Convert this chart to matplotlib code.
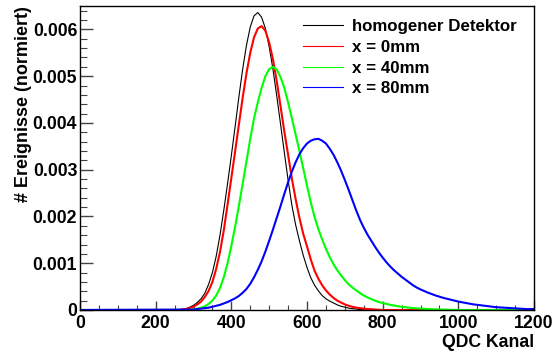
import numpy as np
import matplotlib
matplotlib.use("Agg")
import matplotlib.pyplot as plt
from matplotlib.lines import Line2D
from matplotlib.ticker import MultipleLocator

plt.rcParams['font.family'] = ['Liberation Sans', 'DejaVu Sans']
plt.rcParams['font.weight'] = 'bold'
plt.rcParams['axes.labelweight'] = 'bold'

# Normalised QDC spectra (fraction of events per channel)
kanal_homogen = np.arange(250, 770, 10)
ereignisse_homogen = [
    0, 0.000005, 0.000015, 0.00003, 0.00006, 0.00010, 0.00016, 0.00024, 0.00036, 0.00055,
    0.00080, 0.00115, 0.00160, 0.00213, 0.00270, 0.00330, 0.00392, 0.00456, 0.00515, 0.00566,
    0.00605, 0.00629, 0.00636, 0.00626, 0.00602, 0.00563, 0.00515, 0.00458, 0.00398, 0.00337,
    0.00278, 0.00224, 0.00182, 0.00148, 0.00117, 0.00091, 0.00069, 0.00053, 0.00041, 0.00031,
    0.00024, 0.00019, 0.00015, 0.00011, 0.00008, 0.00006, 0.00004, 0.00003, 0.00002, 0.00001,
    0.000005, 0,
]

kanal_0mm = np.arange(260, 810, 10)
ereignisse_0mm = [
    0, 0.00001, 0.00002, 0.00004, 0.00007, 0.00012, 0.00018, 0.00028, 0.00041, 0.00060,
    0.00088, 0.00124, 0.00170, 0.00225, 0.00282, 0.00339, 0.00397, 0.00454, 0.00506, 0.00550,
    0.00583, 0.00602, 0.00607, 0.00597, 0.00572, 0.00536, 0.00489, 0.00436, 0.00382, 0.00332,
    0.00281, 0.00237, 0.00197, 0.00163, 0.00136, 0.00108, 0.00084, 0.00067, 0.00053, 0.00042,
    0.00033, 0.00026, 0.00020, 0.00016, 0.00012, 0.00009, 0.00007, 0.00005, 0.00004, 0.00003,
    0.00002, 0.000015, 0.00001, 0.000005, 0,
]

kanal_40mm = np.r_[np.arange(280, 810, 10), [820, 840, 860, 880, 900, 920, 950, 1000]]
ereignisse_40mm = [
    0, 0.000005, 0.000015, 0.00003, 0.00005, 0.00008, 0.00013, 0.00020, 0.00031, 0.00047,
    0.00070, 0.00100, 0.00137, 0.00178, 0.00223, 0.00270, 0.00318, 0.00366, 0.00410, 0.00444,
    0.00475, 0.00500, 0.00515, 0.00520, 0.00514, 0.00498, 0.00475, 0.00444, 0.00410, 0.00375,
    0.00340, 0.00303, 0.00266, 0.00230, 0.00199, 0.00173, 0.00151, 0.00131, 0.00113, 0.00098,
    0.00085, 0.00074, 0.00064, 0.00055, 0.00048, 0.00042, 0.00036, 0.00031, 0.00027, 0.00023,
    0.00020, 0.00017, 0.00015,
    0.00011, 0.00008, 0.00006, 0.00004, 0.00003, 0.00002, 0.00001, 0,
]

kanal_80mm = np.r_[np.arange(300, 910, 10), np.arange(920, 1220, 20)]
ereignisse_80mm = [
    0.00001, 0.00002, 0.00003, 0.00004, 0.00005, 0.00007, 0.00009, 0.00011, 0.00014, 0.00017,
    0.00021, 0.00025, 0.00030, 0.00037, 0.00045, 0.00056, 0.00070, 0.00086, 0.00104, 0.00125,
    0.00148, 0.00172, 0.00197, 0.00222, 0.00248, 0.00273, 0.00296, 0.00316, 0.00333, 0.00346,
    0.00356, 0.00362, 0.00365, 0.00366, 0.00362, 0.00356, 0.00345, 0.00332, 0.00316, 0.00298,
    0.00278, 0.00257, 0.00235, 0.00213, 0.00193, 0.00176, 0.00161, 0.00148, 0.00135, 0.00123,
    0.00112, 0.00102, 0.00093, 0.00085, 0.00078, 0.00071, 0.00065, 0.00059, 0.00053, 0.00048,
    0.00044,
    0.00037, 0.00031, 0.00026, 0.00022, 0.00018, 0.00015, 0.00012, 0.00010, 0.00008, 0.00006,
    0.00005, 0.00004, 0.00003, 0.00002, 0.00002,
]

serien = [
    ("homogener Detektor", kanal_homogen, ereignisse_homogen, "#000000", 0.8),
    ("x = 0mm", kanal_0mm, ereignisse_0mm, "#ff0000", 1.5),
    ("x = 40mm", kanal_40mm, ereignisse_40mm, "#00ff00", 1.5),
    ("x = 80mm", kanal_80mm, ereignisse_80mm, "#0000ff", 1.5),
]

x_ticks = [0, 200, 400, 600, 800, 1000, 1200]
y_ticks = [0, 0.001, 0.002, 0.003, 0.004, 0.005, 0.006]
y_tick_labels = ["0", "0.001", "0.002", "0.003", "0.004", "0.005", "0.006"]

W, H = 559, 353
fig = plt.figure(figsize=(W / 100, H / 100), dpi=100)
ax = fig.add_axes([80 / W, 43 / H, 454 / W, 304 / H])

for label, kanal, werte, farbe, lw in serien:
    x = np.asarray(kanal, dtype=float)
    y = np.asarray(werte, dtype=float)
    # spectra are zero outside the sampled range
    x = np.r_[0.0, x]
    y = np.r_[0.0, y]
    if x[-1] < 1200:
        x = np.r_[x, 1200.0]
        y = np.r_[y, 0.0]
    ax.plot(x, y, color=farbe, lw=lw, solid_joinstyle="round")

ax.set_xlim(0, 1200)
ax.set_ylim(0, 0.0065)

ax.set_xticks(x_ticks)
ax.xaxis.set_minor_locator(MultipleLocator(50))
ax.set_yticks(y_ticks, y_tick_labels)
ax.yaxis.set_minor_locator(MultipleLocator(0.0002))

tick_col = "#444444"
ax.tick_params(axis="y", which="major", direction="in", length=9.4, width=1.0,
               color=tick_col, labelsize=12.7, pad=2)
ax.tick_params(axis="y", which="minor", direction="in", length=5.0, width=0.8,
               color=tick_col)
ax.tick_params(axis="x", which="major", direction="in", length=6.5, width=1.0,
               color=tick_col, labelsize=12.7, pad=3.5)
ax.tick_params(axis="x", which="minor", direction="in", length=3.6, width=0.8,
               color=tick_col)

for sp in ax.spines.values():
    sp.set_linewidth(1.0)
    sp.set_color("black")

ax.set_xlabel("QDC Kanal", fontsize=12.7, fontweight="bold", loc="right")
ax.xaxis.label.set_va("baseline")
ax.xaxis.set_label_coords(1.0, -37 / 304)

ax.set_ylabel("# Ereignisse (normiert)", fontsize=13, fontweight="bold", loc="top")
ax.yaxis.set_label_coords(-48 / 454, 1.0)

handles = [Line2D([], [], color=s[3], lw=0.8) for s in serien]
ax.legend(handles, [s[0] for s in serien], loc="upper left",
          bbox_to_anchor=(303 / W, 1 - 19 / H), bbox_transform=fig.transFigure,
          frameon=False, fontsize=12.2, handlelength=2.34, handletextpad=0.53,
          labelspacing=0.34, borderpad=0, borderaxespad=0)

fig.savefig("out.png", dpi=100)
